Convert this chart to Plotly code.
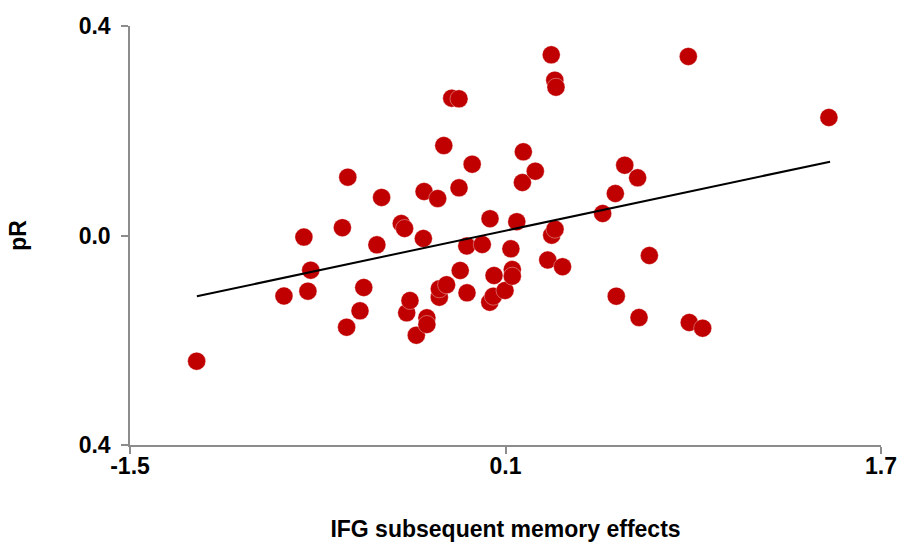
import plotly.graph_objects as go

# Data
ifg_sme = [-1.216, -0.844, -0.759, -0.742, -0.730, -0.595, -0.577, -0.572, -0.520, -0.504,
           -0.448, -0.428, -0.344, -0.330, -0.321, -0.307, -0.280, -0.250, -0.247, -0.235,
           -0.235, -0.189, -0.182, -0.182, -0.163, -0.151, -0.129, -0.098, -0.098, -0.093,
           -0.065, -0.064, -0.042, 0.001, 0.033, 0.034, 0.051, 0.048, 0.098, 0.123,
           0.129, 0.129, 0.148, 0.172, 0.176, 0.227, 0.280, 0.295, 0.297, 0.310,
           0.315, 0.311, 0.343, 0.514, 0.568, 0.572, 0.608, 0.663, 0.669, 0.713,
           0.879, 0.883, 0.940, 1.478]
pr_values = [-0.240, -0.1155, -0.003, -0.1063, -0.0663, 0.0149, -0.1751, 0.1113, -0.1438, -0.0993,
             -0.0178, 0.0726, 0.0229, 0.0134, -0.1476, -0.1241, -0.1904, -0.0057, 0.0840, -0.1571,
             -0.1699, 0.0706, -0.1178, -0.1018, 0.1718, -0.0941, 0.2622, 0.2610, 0.0911, -0.0668,
             -0.0200, -0.1094, 0.1361, -0.0172, -0.1274, 0.0321, -0.0764, -0.1159, -0.1050, -0.0254,
             -0.0649, -0.0777, 0.0263, 0.1012, 0.1598, 0.1228, -0.0468, 0.3450, 0.0006, 0.2965,
             0.2831, 0.0120, -0.0596, 0.0420, 0.0802, -0.1159, 0.1342, 0.1102, -0.1566, -0.0382,
             0.3418, -0.1661, -0.1770, 0.2253]

trend_x = [-1.215, 1.483]
trend_y = [-0.116, 0.141]

x_ticks = [-1.5, 0.1, 1.7]
x_ticktext = ["-1.5", "0.1", "1.7"]
y_ticks = [-0.4, 0.0, 0.4]
y_ticktext = ["0.4", "0.0", "0.4"]

font_family = "Liberation Sans, Arial, sans-serif"
label_font = dict(family=font_family, size=23, color="black", weight="bold")

fig = go.Figure()
fig.add_trace(go.Scatter(
    x=ifg_sme, y=pr_values, mode="markers",
    marker=dict(size=18, color="#C00000", line=dict(width=0.6, color="rgba(255,255,255,0.6)")),
    showlegend=False, hoverinfo="x+y",
))
fig.add_trace(go.Scatter(
    x=trend_x, y=trend_y, mode="lines",
    line=dict(color="black", width=2),
    showlegend=False, hoverinfo="skip",
))

axis_common = dict(
    showgrid=False, zeroline=False,
    showline=True, linecolor="#8c8c8c", linewidth=1.5,
    ticks="outside", ticklen=7, tickwidth=1.5, tickcolor="#8c8c8c",
    tickfont=label_font,
)

fig.update_layout(
    width=906, height=549,
    margin=dict(l=130, r=25, t=26, b=104),
    paper_bgcolor="white", plot_bgcolor="white",
    font=dict(family=font_family, color="black"),
    xaxis=dict(
        range=[-1.5, 1.7], tickvals=x_ticks, ticktext=x_ticktext,
        title=dict(text="IFG subsequent memory effects", standoff=43, font=label_font),
        automargin=False, ticklabelstandoff=-7,
        **axis_common,
    ),
    yaxis=dict(
        range=[-0.4, 0.4], tickvals=y_ticks, ticktext=y_ticktext,
        title=dict(text="pR", standoff=46, font=label_font),
        automargin=False, ticklabelstandoff=6,
        **axis_common,
    ),
)

fig.write_html("out.html")
